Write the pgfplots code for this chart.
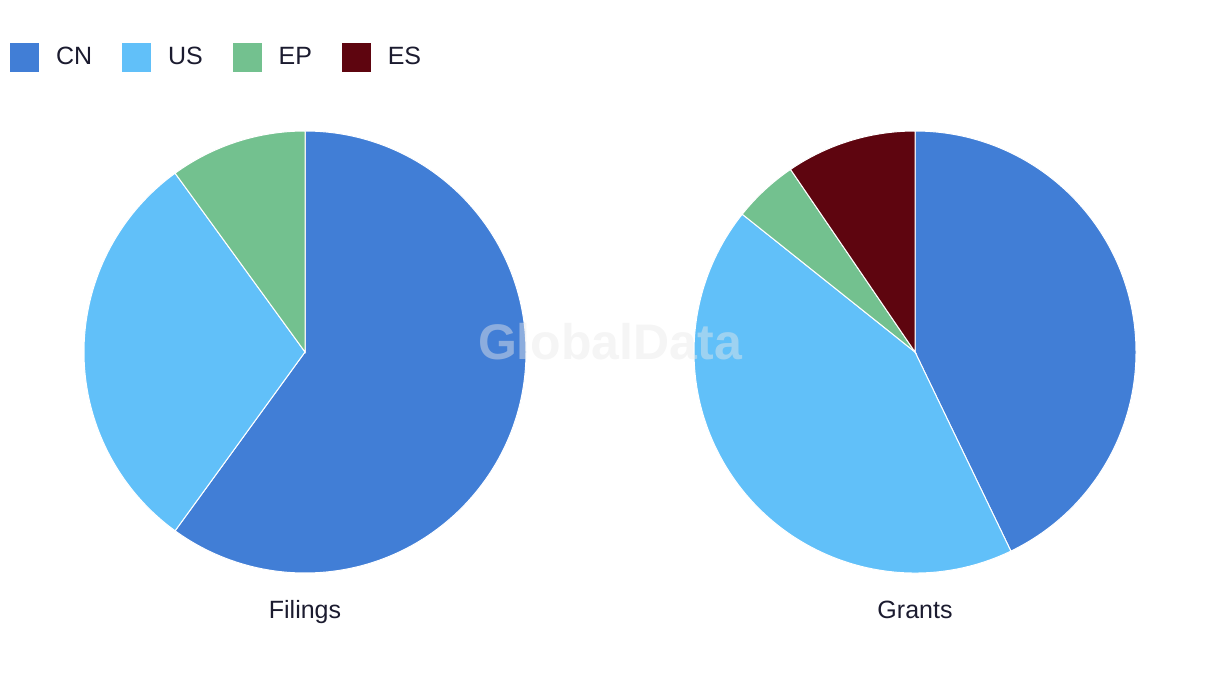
\documentclass[border=0pt]{standalone}
\usepackage{pgfplots}
\pgfplotsset{compat=1.18}
\usepackage{pgfplotstable}
\usepackage{fontspec}
\setmainfont{Liberation Sans}

\definecolor{c0}{HTML}{417ED6}
\definecolor{c1}{HTML}{61C0F9}
\definecolor{c2}{HTML}{73C18F}
\definecolor{c3}{HTML}{5E050F}
\definecolor{txt}{HTML}{1B1B2F}

\pgfplotstableread{
country filings grants
CN 6 9
US 3 9
EP 1 1
ES 0 2
}\piedata

% start/end angles of each slice, clockwise from 12 o'clock
\newcommand\pieangles[2]{%
  \xdef\pietot{0}%
  \foreach \i in {0,...,3}{%
    \pgfplotstablegetelem{\i}{#1}\of\piedata
    \pgfmathsetmacro\t{\pietot+\pgfplotsretval}\xdef\pietot{\t}}%
  \xdef\piecum{0}%
  \foreach \i in {0,...,3}{%
    \pgfplotstablegetelem{\i}{#1}\of\piedata
    \pgfmathsetmacro\a{90-360*\piecum/\pietot}%
    \pgfmathsetmacro\c{\piecum+\pgfplotsretval}%
    \pgfmathsetmacro\b{90-360*\c/\pietot}%
    \expandafter\xdef\csname #2s\i\endcsname{\a}%
    \expandafter\xdef\csname #2e\i\endcsname{\b}%
    \xdef\piecum{\c}}%
}

\begin{document}
\pieangles{filings}{f}\pieangles{grants}{g}%
\begin{tikzpicture}
\begin{axis}[x=0.5pt,y=0.5pt,xmin=0,xmax=1220,ymin=0,ymax=686,
  hide axis,clip=false,
  legend columns=4,
  legend image code/.code={\fill[#1] (0pt,-7pt) rectangle (14pt,7pt);},
  legend style={at={(0.0082,0.9169)},anchor=west,draw=none,fill=none,inner sep=0pt,
    font=\fontsize{12.5}{15}\selectfont,text=txt,
    /tikz/every odd column/.append style={column sep=6.5pt},
    /tikz/every even column/.append style={column sep=13pt}},
  legend cell align=left]
\addlegendimage{c0}\addlegendentry{CN}
\addlegendimage{c1}\addlegendentry{US}
\addlegendimage{c2}\addlegendentry{EP}
\addlegendimage{c3}\addlegendentry{ES}
\path (axis cs:0,0) rectangle (axis cs:1220,686);
\pgfplotsinvokeforeach{0,...,3}{
  \fill[c#1,draw=white,line width=0.5pt] (axis cs:305,334) -- ++(\csname fs#1\endcsname:110.5pt)
    arc[start angle=\csname fs#1\endcsname,end angle=\csname fe#1\endcsname,radius=110.5pt] -- cycle;
  \fill[c#1,draw=white,line width=0.5pt] (axis cs:915,334) -- ++(\csname gs#1\endcsname:110.5pt)
    arc[start angle=\csname gs#1\endcsname,end angle=\csname ge#1\endcsname,radius=110.5pt] -- cycle;
}
\node[anchor=base,font=\fontsize{12.5}{15}\selectfont,text=txt] at (axis cs:305,68) {Filings};
\node[anchor=base,font=\fontsize{12.5}{15}\selectfont,text=txt] at (axis cs:915,68) {Grants};
\node[anchor=base,font=\bfseries\fontsize{25}{30}\selectfont,text=gray!18,opacity=0.45] at (axis cs:610,326) {GlobalData};
\end{axis}
\end{tikzpicture}
\end{document}
